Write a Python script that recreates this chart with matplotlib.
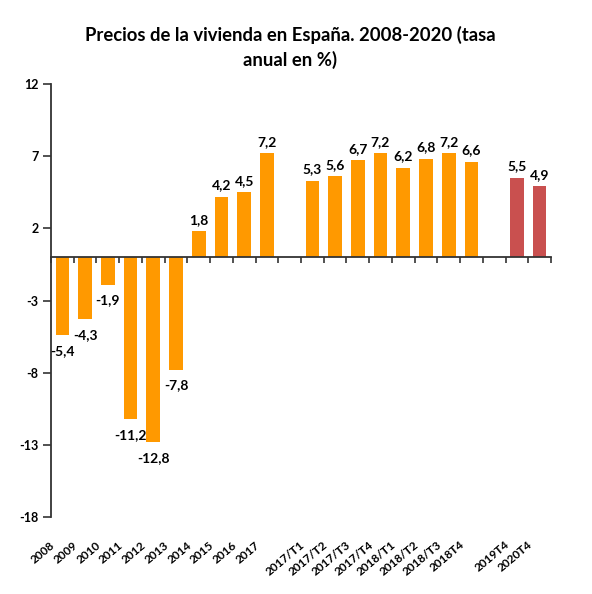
import matplotlib
matplotlib.use("Agg")
import matplotlib.pyplot as plt
import numpy as np

plt.rcParams['font.family'] = ['Lato', 'DejaVu Sans']

categories = ['2008', '2009', '2010', '2011', '2012', '2013', '2014', '2015', '2016', '2017', '',
              '2017/T1', '2017/T2', '2017/T3', '2017/T4', '2018/T1', '2018/T2', '2018/T3', '2018T4', '',
              '2019T4', '2020T4']
values = [-5.4, -4.3, -1.9, -11.2, -12.8, -7.8, 1.8, 4.2, 4.5, 7.2, None,
          5.3, 5.6, 6.7, 7.2, 6.2, 6.8, 7.2, 6.6, None,
          5.5, 4.9]
groups = ['hist'] * 19 + ['', 'forecast', 'forecast']
colors_map = {'hist': '#FF9900', 'forecast': '#C9504F', '': 'none'}
yticks = [12, 7, 2, -3, -8, -13, -18]
title = 'Precios de la vivienda en España. 2008-2020 (tasa\nanual en %)'

fig = plt.figure(figsize=(5.92, 5.94), dpi=100)
ax = fig.add_axes([0.0861, 0.1296, 0.8446, 0.729])

x = np.arange(len(categories))
for xi, v, g in zip(x, values, groups):
    if v is None:
        continue
    ax.bar(xi, v, width=0.6, color=colors_map[g], zorder=2)
    lab = f'{v:.1f}'.replace('.', ',')
    if v >= 0:
        ax.annotate(lab, (xi, v), xytext=(0, 4), textcoords='offset points',
                    ha='center', va='bottom', fontsize=10, fontweight='bold')
    else:
        ax.annotate(lab, (xi, v), xytext=(0, -7), textcoords='offset points',
                    ha='center', va='top', fontsize=10, fontweight='bold')

ax.set_xlim(-0.5, len(categories) - 0.5)
ax.set_ylim(-18, 12)
ax.set_yticks(yticks)
ax.set_yticklabels([str(t) for t in yticks], fontsize=9, fontweight='bold')
ax.tick_params(axis='y', direction='out', length=6, width=1.2, color='#333333', pad=3)

for s in ['top', 'right']:
    ax.spines[s].set_visible(False)
ax.spines['left'].set_linewidth(1.3)
ax.spines['left'].set_color('#333333')
ax.spines['bottom'].set_position(('data', 0))
ax.spines['bottom'].set_linewidth(1.3)
ax.spines['bottom'].set_color('#333333')
ax.spines['bottom'].set_zorder(3)

ax.set_xticks(np.arange(-0.5, len(categories), 1.0))
ax.set_xticklabels([])
ax.tick_params(axis='x', direction='out', length=4, width=1.2, color='#333333')

# category labels below the plot area, rotated
for xi, c in zip(x, categories):
    if not c:
        continue
    ax.annotate(c, xy=(xi, 0), xycoords=('data', 'axes fraction'),
                xytext=(-9, -16), textcoords='offset points',
                rotation=40, ha='right', va='top', rotation_mode='anchor',
                fontsize=8.5, fontweight='bold', annotation_clip=False)

fig.text(0.49, 0.957, title, ha='center', va='top', fontsize=13.3,
         fontweight='bold', linespacing=1.45)

fig.savefig('out.png', dpi=100)
